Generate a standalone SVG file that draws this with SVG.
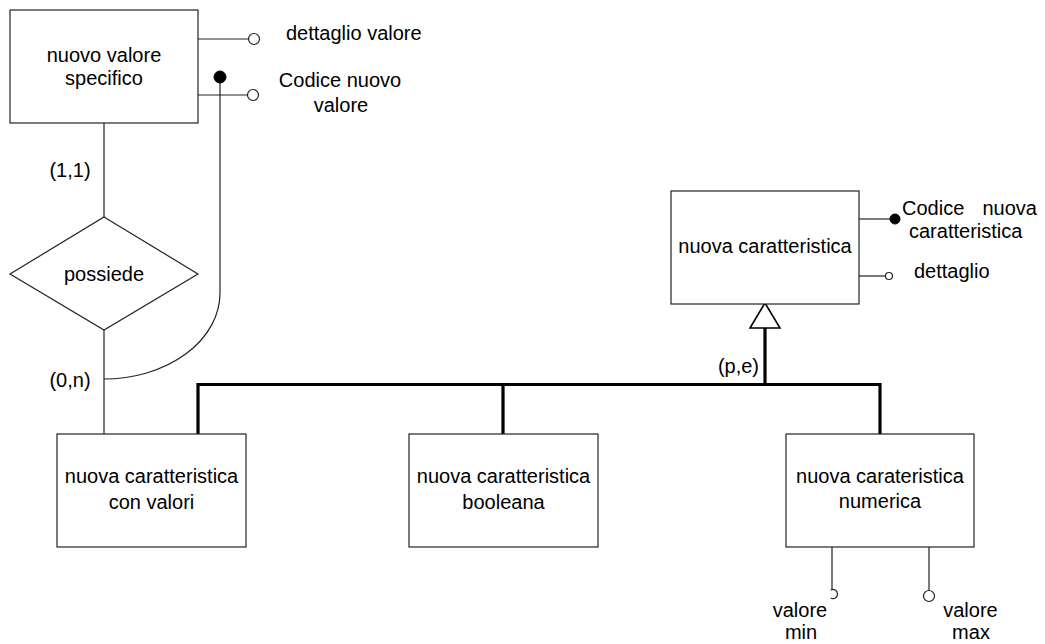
<svg xmlns="http://www.w3.org/2000/svg" width="1045" height="644" viewBox="0 0 1045 644">
  <style>
    text { font-family: "Liberation Sans", Arial, sans-serif; font-size: 20px; fill: #000; }
    .mid { text-anchor: middle; }
    .ent { fill: #fff; stroke: #222; stroke-width: 1.2; }
    .thin { fill: none; stroke: #222; stroke-width: 1.2; }
    .thick { fill: none; stroke: #000; stroke-width: 3.2; }
    .attr { fill: #fff; stroke: #222; stroke-width: 1.2; }
    .key { fill: #000; stroke: #000; stroke-width: 1; }
  </style>
  <rect width="1045" height="644" fill="#fff"/>

  <!-- connectors -->
  <g id="connectors">
    <!-- relationship lines -->
    <line class="thin" x1="104" y1="123" x2="104" y2="217"/>
    <line class="thin" x1="104" y1="330" x2="104" y2="434"/>
    <!-- external identifier path -->
    <path class="thin" d="M220,77 L220,293 A116 86 0 0 1 104,379"/>
    <!-- generalization hierarchy -->
    <path class="thick" d="M198,434 L198,384.5 L880,384.5 L880,434"/>
    <line class="thick" x1="503" y1="384.5" x2="503" y2="434"/>
    <line class="thick" x1="765" y1="384.5" x2="765" y2="328"/>
    <polygon points="765,303 750,328 780,328" fill="#fff" stroke="#000" stroke-width="1.6"/>
  </g>

  <!-- cardinality and coverage labels -->
  <g id="labels">
    <text class="mid" x="70" y="177">(1,1)</text>
    <text class="mid" x="70" y="387">(0,n)</text>
    <text x="759" y="373" text-anchor="end">(p,e)</text>
  </g>

  <g id="nuovo-valore-specifico">
    <rect class="ent" x="10" y="10" width="188" height="113"/>
    <text class="mid" x="104" y="62">nuovo valore</text>
    <text class="mid" x="104" y="85">specifico</text>
    <line class="thin" x1="198" y1="39" x2="248.5" y2="39"/>
    <circle class="attr" cx="254" cy="39" r="5.5"/>
    <text x="286" y="40">dettaglio valore</text>
    <line class="thin" x1="198" y1="95" x2="247.5" y2="95"/>
    <circle class="attr" cx="253" cy="95" r="5.5"/>
    <text class="mid" x="340" y="87">Codice nuovo</text>
    <text class="mid" x="341" y="112">valore</text>
    <circle class="key" cx="220" cy="77" r="6"/>
  </g>

  <g id="possiede">
    <polygon class="ent" points="104,217 198,274 104,330 10,274"/>
    <text class="mid" x="104" y="281">possiede</text>
  </g>

  <g id="nuova-caratteristica">
    <rect class="ent" x="671" y="191" width="188" height="113"/>
    <text class="mid" x="765" y="253">nuova caratteristica</text>
    <line class="thin" x1="859" y1="219" x2="891" y2="219"/>
    <circle class="key" cx="895" cy="219" r="5"/>
    <text y="215"><tspan x="902">Codice</tspan><tspan x="982.5">nuova</tspan></text>
    <text x="909" y="238">caratteristica</text>
    <line class="thin" x1="859" y1="276" x2="885.5" y2="276"/>
    <circle class="attr" cx="889" cy="276" r="3.5"/>
    <text x="914" y="278">dettaglio</text>
  </g>

  <g id="nuova-caratteristica-con-valori">
    <rect class="ent" x="57" y="434" width="189" height="113"/>
    <text class="mid" x="151.5" y="483">nuova caratteristica</text>
    <text class="mid" x="151.5" y="509">con valori</text>
  </g>

  <g id="nuova-caratteristica-booleana">
    <rect class="ent" x="409" y="434" width="189" height="113"/>
    <text class="mid" x="503.5" y="483">nuova caratteristica</text>
    <text class="mid" x="503.5" y="509">booleana</text>
  </g>

  <g id="nuova-carateristica-numerica">
    <rect class="ent" x="786" y="434" width="188" height="113"/>
    <text class="mid" x="880" y="483">nuova carateristica</text>
    <text class="mid" x="880" y="508">numerica</text>
    <line class="thin" x1="832" y1="547" x2="832" y2="589.5"/>
    <path class="thin" d="M830.75,590.1 A4.5 4.5 0 1 1 830.75,597.9"/>
    <text class="mid" x="800" y="617">valore</text>
    <text class="mid" x="801" y="639">min</text>
    <line class="thin" x1="929" y1="547" x2="929" y2="590.5"/>
    <circle class="attr" cx="929" cy="596" r="5.5"/>
    <text class="mid" x="970.5" y="617">valore</text>
    <text class="mid" x="971" y="639">max</text>
  </g>
</svg>
